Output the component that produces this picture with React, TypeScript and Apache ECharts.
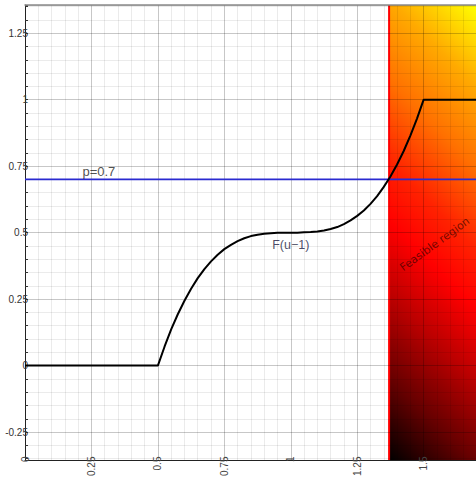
import React, { useEffect, useRef } from "react";
import * as echarts from "echarts";

// ---- data ----
const uValues = [0, 0.5, 0.525, 0.55, 0.575, 0.6, 0.625, 0.65, 0.675, 0.7, 0.725, 0.75, 0.775, 0.8, 0.825, 0.85, 0.875, 0.9, 0.925, 0.95, 0.975, 1.0, 1.025, 1.05, 1.075, 1.1, 1.125, 1.15, 1.175, 1.2, 1.225, 1.25, 1.275, 1.3, 1.325, 1.35, 1.375, 1.4, 1.425, 1.45, 1.475, 1.5, 1.697];
const fValues = [0, 0, 0.071, 0.136, 0.193, 0.244, 0.289, 0.329, 0.363, 0.392, 0.417, 0.438, 0.454, 0.468, 0.479, 0.487, 0.492, 0.496, 0.498, 0.5, 0.5, 0.5, 0.5, 0.501, 0.502, 0.504, 0.508, 0.514, 0.521, 0.532, 0.546, 0.563, 0.583, 0.608, 0.637, 0.672, 0.711, 0.756, 0.807, 0.865, 0.929, 1, 1];
const pLevel = 0.7;
const pLabel = "p=0.7";
const curveLabel = "F(u\u22121)";
const regionLabel = "Feasible region";
const feasibleStart = 1.37;
const X_MIN = 0;
const X_MAX = 1.697;
const Y_MIN = -0.357;
const Y_MAX = 1.356;
const TICK_STEP = 0.25;

const FONT = "'Liberation Sans', Arial, sans-serif";

export default function App() {
  const ref = useRef<HTMLDivElement>(null);
  useEffect(() => {
    if (!ref.current) return;
    const chart = echarts.init(ref.current, undefined, { renderer: "svg" });
    const curve = uValues.map((u, i) => [u, fValues[i]]);
    const option: any = {
      animation: false,
      backgroundColor: "#ffffff",
      grid: { left: 25, right: -2, top: 5, bottom: 15, containLabel: false },
      xAxis: [
        {
          type: "value",
          min: X_MIN,
          max: X_MAX,
          minInterval: TICK_STEP,
          maxInterval: TICK_STEP,
          position: "bottom",
          z: 1,
          axisLine: { onZero: false, lineStyle: { color: "#222", width: 1 } },
          axisTick: { show: false },
          axisLabel: {
            rotate: 90,
            margin: -4,
            fontSize: 10,
            color: "#444",
            fontFamily: FONT,
            showMaxLabel: false,
          },
          splitLine: { show: true, lineStyle: { color: "rgba(0,0,0,0.22)", width: 1 } },
          minorTick: { show: false, splitNumber: 5 },
          minorSplitLine: { show: true, lineStyle: { color: "rgba(0,0,0,0.08)", width: 1 } },
        },
        {
          type: "value",
          min: X_MIN,
          max: X_MAX,
          position: "top",
          z: 2,
          axisLine: { show: true, onZero: false, lineStyle: { color: "#8a8a8a", width: 1.5 } },
          axisTick: { show: false },
          axisLabel: { show: false },
          splitLine: { show: false },
        },
      ],
      yAxis: {
        type: "value",
        min: Y_MIN,
        max: Y_MAX,
        minInterval: TICK_STEP,
        maxInterval: TICK_STEP,
        z: 1,
        axisLine: { onZero: false, lineStyle: { color: "#222", width: 1 } },
        axisTick: { show: true, inside: true, length: 3, lineStyle: { color: "#333" } },
        minorTick: { show: true, splitNumber: 5, length: 3, lineStyle: { color: "#333" } },
        axisLabel: {
          margin: -3,
          fontSize: 10,
          color: "#333",
          fontFamily: FONT,
          showMinLabel: false,
          showMaxLabel: false,
        },
        splitLine: { show: true, lineStyle: { color: "rgba(0,0,0,0.22)", width: 1 } },
        minorSplitLine: { show: true, lineStyle: { color: "rgba(0,0,0,0.08)", width: 1 } },
      },
      series: [
        {
          type: "custom",
          z: 0,
          clip: true,
          data: [[feasibleStart, 0]],
          renderItem: (params: any, api: any) => {
            const tl = api.coord([feasibleStart, Y_MAX]);
            const br = api.coord([X_MAX, Y_MIN]);
            const w = br[0] - tl[0];
            const h = br[1] - tl[1];
            const L = (w + h) / 2;
            return {
              type: "group",
              children: [
                {
                  type: "rect",
                  shape: { x: tl[0], y: tl[1], width: w, height: h },
                  style: {
                    fill: {
                      type: "linear",
                      x: tl[0],
                      y: br[1],
                      x2: tl[0] + L,
                      y2: br[1] - L,
                      global: true,
                      colorStops: [
                        { offset: 0, color: "#000000" },
                        { offset: 0.15, color: "#640000" },
                        { offset: 0.3, color: "#b80000" },
                        { offset: 0.44, color: "#ff0000" },
                        { offset: 0.55, color: "#ff2200" },
                        { offset: 0.7, color: "#ff7000" },
                        { offset: 0.85, color: "#ffaa00" },
                        { offset: 1, color: "#ffff00" },
                      ],
                    },
                  },
                },
                {
                  type: "line",
                  shape: { x1: tl[0], y1: tl[1], x2: tl[0], y2: br[1] },
                  style: { stroke: "#ff0000", lineWidth: 2 },
                },
              ],
            };
          },
        },
        {
          type: "line",
          z: 4,
          data: [[X_MIN, pLevel], [X_MAX, pLevel]],
          symbol: "none",
          lineStyle: { color: "#2a2ad0", width: 1.8 },
        },
        {
          type: "line",
          z: 5,
          data: curve,
          symbol: "none",
          lineStyle: { color: "#000", width: 2 },
        },
        {
          type: "scatter",
          z: 6,
          symbolSize: 0,
          data: [
            {
              name: pLabel,
              value: [0.278, pLevel],
              label: { position: "top", distance: 1, fontSize: 13, color: "#222" },
            },
            {
              name: curveLabel,
              value: [1.0, 0.5],
              label: { position: "bottom", distance: 6, fontSize: 12.5, color: "#1a1a40" },
            },
            {
              name: regionLabel,
              value: [1.542, 0.456],
              label: {
                position: "inside",
                rotate: 36,
                fontSize: 11,
                fontFamily: "'DejaVu Sans', sans-serif",
                color: "rgba(30,0,0,0.8)",
              },
            },
          ],
          label: { show: true, formatter: "{b}", fontFamily: FONT },
        },
      ],
    };
    chart.setOption(option);
    return () => chart.dispose();
  }, []);
  return <div ref={ref} style={{ position: "fixed", left: 0, top: 0, width: 476, height: 479 }} />;
}
